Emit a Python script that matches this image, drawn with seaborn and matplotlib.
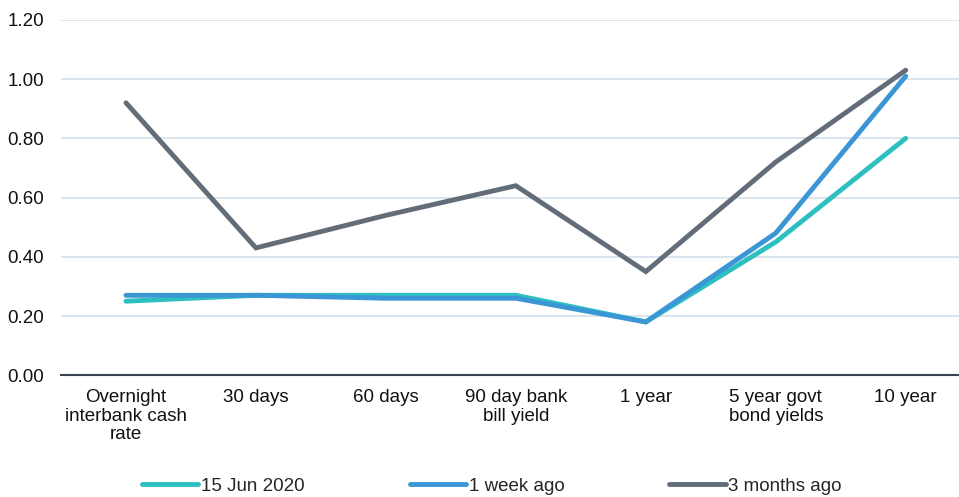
import matplotlib
matplotlib.use("Agg")
import matplotlib.pyplot as plt
import seaborn as sns
import pandas as pd

CATEGORIES = ["Overnight\ninterbank cash\nrate", "30 days", "60 days",
              "90 day bank\nbill yield", "1 year", "5 year govt\nbond yields", "10 year"]
SERIES = ["15 Jun 2020", "1 week ago", "3 months ago"]
JUN_2020 = [0.25, 0.27, 0.27, 0.27, 0.18, 0.45, 0.80]
WEEK_AGO = [0.27, 0.27, 0.26, 0.26, 0.18, 0.48, 1.01]
MONTHS_AGO = [0.92, 0.43, 0.54, 0.64, 0.35, 0.72, 1.03]
YTICKS = [0.0, 0.2, 0.4, 0.6, 0.8, 1.0, 1.2]

COLORS = ["#2EC0C1", "#3A96D5", "#636D79"]

sns.set_style("white")
plt.rcParams["font.family"] = ["Liberation Sans", "DejaVu Sans"]

rows = []
for name, vals in zip(SERIES, [JUN_2020, WEEK_AGO, MONTHS_AGO]):
    for i, v in enumerate(vals):
        rows.append({"pos": i, "value": v, "series": name})
df = pd.DataFrame(rows)

fig, ax = plt.subplots(figsize=(9.59, 4.97), dpi=100)
fig.subplots_adjust(left=0.0636, right=1.0, top=0.96, bottom=0.245)

sns.lineplot(data=df, x="pos", y="value", hue="series", hue_order=SERIES,
             palette=COLORS, linewidth=3.5, sort=False, ax=ax,
             solid_capstyle="round", solid_joinstyle="miter")

ax.set_xlim(-0.5, 6.41)
ax.set_ylim(0, 1.2)
ax.set_yticks(YTICKS)
ax.set_yticklabels([f"{t:.2f}" for t in YTICKS])
ax.set_xticks(range(len(CATEGORIES)))
ax.set_xticklabels(CATEGORIES)
ax.set_xlabel("")
ax.set_ylabel("")
ax.tick_params(axis="x", length=0, pad=10, labelsize=13.5, colors="#111111")
ax.tick_params(axis="y", length=0, pad=12, labelsize=13.5, colors="#111111")
for lbl in ax.get_xticklabels():
    lbl.set_verticalalignment("top")
    lbl.set_linespacing(1.12)

ax.grid(axis="y", color="#D9E2EC", linewidth=1.3)
ax.set_axisbelow(True)
for side in ["left", "right", "top"]:
    ax.spines[side].set_visible(False)
ax.spines["bottom"].set_color("#3B4450")
ax.spines["bottom"].set_linewidth(1.5)
ax.spines["bottom"].set_zorder(1)

handles, labels = ax.get_legend_handles_labels()
for h in handles:
    h.set_solid_capstyle("round")
ax.legend(handles, labels, loc="center", bbox_to_anchor=(0.513, 0.022),
          bbox_transform=fig.transFigure, ncol=3, frameon=False, fontsize=13.5,
          handlelength=3.0, handletextpad=0.15, columnspacing=5.6)

fig.savefig("out.png", dpi=100)
